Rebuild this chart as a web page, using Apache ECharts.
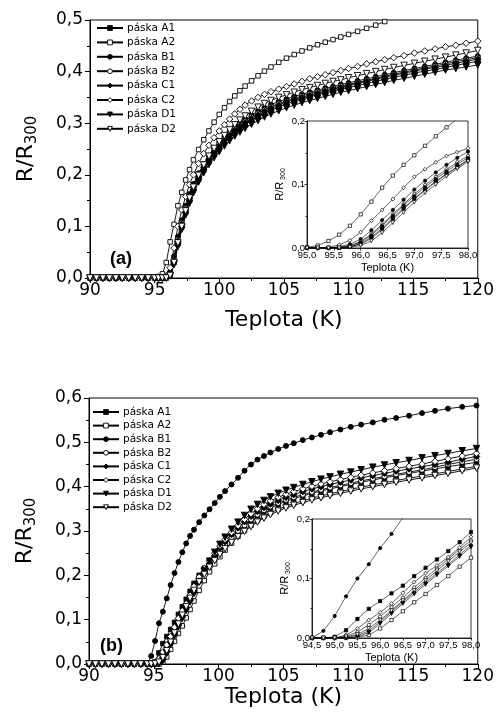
<!DOCTYPE html>
<html lang="cs">
<head>
  <meta charset="UTF-8">
  <title>R/R300 vs Teplota</title>
  <style>
    * { margin: 0; padding: 0; }
    #main { width: 497px; height: 718px; background: #fff; }
  </style>
</head>
<body>
  <div id="main"></div>
  <script src="https://cdn.jsdelivr.net/npm/echarts@6/dist/echarts.min.js"></script>
  <script>
    // ---- panel (a), main plot ----
    const tA = [90, 90.5, 91, 91.5, 92, 92.5, 93, 93.5, 94, 94.5,
      95, 95.3, 95.6, 95.9, 96.2, 96.5, 96.8, 97.1, 97.4, 97.7, 98,
      98.4, 98.8, 99.2, 99.6, 100, 100.4, 100.8, 101.2, 101.6, 102,
      102.5, 103, 103.5, 104,
      104.6, 105.2, 105.8, 106.4, 107, 107.6, 108.2, 108.8, 109.4, 110,
      110.7, 111.4, 112.1, 112.8, 113.5, 114.3, 115.1, 115.9, 116.7, 117.5, 118.3, 119.1, 120]
    const a_A1 = [0, 0, 0, 0, 0, 0, 0, 0, 0, 0,
      0, 0, 0, 0, 0.006, 0.03, 0.066, 0.099, 0.127, 0.15, 0.17,
      0.191, 0.209, 0.225, 0.239, 0.251, 0.262, 0.272, 0.281, 0.289, 0.297,
      0.305, 0.312, 0.319, 0.325,
      0.331, 0.337, 0.342, 0.346, 0.351, 0.355, 0.359, 0.362, 0.366, 0.369,
      0.373, 0.377, 0.381, 0.385, 0.389, 0.393, 0.397, 0.401, 0.404, 0.408, 0.412, 0.416, 0.42]
    const a_A2 = [0, 0, 0, 0, 0, 0, 0, 0, 0, 0,
      0.001, 0.003, 0.008, 0.03, 0.07, 0.104, 0.14, 0.166, 0.19, 0.21, 0.229,
      0.249, 0.268, 0.285, 0.302, 0.317, 0.33, 0.342, 0.353, 0.363, 0.372,
      0.382, 0.392, 0.401, 0.409,
      0.418, 0.426, 0.433, 0.44, 0.446, 0.452, 0.457, 0.462, 0.467, 0.472,
      0.478, 0.484, 0.49, 0.497, null, null, null, null, null, null, null, null, null]
    const a_B1 = [0, 0, 0, 0, 0, 0, 0, 0, 0, 0,
      0, 0, 0, 0.002, 0.012, 0.042, 0.08, 0.112, 0.14, 0.163, 0.182,
      0.203, 0.221, 0.237, 0.251, 0.263, 0.274, 0.284, 0.293, 0.301, 0.308,
      0.316, 0.323, 0.33, 0.336,
      0.342, 0.347, 0.352, 0.356, 0.36, 0.364, 0.368, 0.371, 0.375, 0.378,
      0.382, 0.386, 0.39, 0.394, 0.398, 0.402, 0.406, 0.41, 0.414, 0.418, 0.422, 0.426, 0.43]
    const a_B2 = [0, 0, 0, 0, 0, 0, 0, 0, 0, 0,
      0, 0, 0, 0.001, 0.009, 0.036, 0.074, 0.107, 0.135, 0.158, 0.178,
      0.199, 0.217, 0.233, 0.247, 0.259, 0.27, 0.28, 0.289, 0.297, 0.304,
      0.312, 0.319, 0.326, 0.332,
      0.338, 0.343, 0.348, 0.353, 0.357, 0.361, 0.365, 0.368, 0.372, 0.375,
      0.379, 0.383, 0.387, 0.391, 0.395, 0.399, 0.403, 0.407, 0.411, 0.415, 0.419, 0.423, 0.427]
    const a_C1 = [0, 0, 0, 0, 0, 0, 0, 0, 0, 0,
      0, 0, 0, 0.001, 0.008, 0.034, 0.071, 0.104, 0.132, 0.155, 0.175,
      0.196, 0.214, 0.23, 0.244, 0.256, 0.267, 0.277, 0.286, 0.294, 0.301,
      0.309, 0.316, 0.323, 0.329,
      0.335, 0.341, 0.346, 0.35, 0.354, 0.358, 0.362, 0.366, 0.369, 0.373,
      0.377, 0.381, 0.385, 0.389, 0.393, 0.397, 0.401, 0.405, 0.408, 0.412, 0.416, 0.42, 0.424]
    const a_C2 = [0, 0, 0, 0, 0, 0, 0, 0, 0, 0,
      0, 0, 0.001, 0.004, 0.02, 0.058, 0.1, 0.132, 0.158, 0.181, 0.2,
      0.222, 0.241, 0.257, 0.272, 0.285, 0.297, 0.308, 0.318, 0.327, 0.335,
      0.343, 0.35, 0.356, 0.361,
      0.366, 0.371, 0.376, 0.381, 0.386, 0.39, 0.394, 0.398, 0.402, 0.406,
      0.41, 0.415, 0.419, 0.423, 0.427, 0.431, 0.436, 0.44, 0.444, 0.448, 0.451, 0.455, 0.459]
    const a_D1 = [0, 0, 0, 0, 0, 0, 0, 0, 0, 0,
      0, 0, 0, 0, 0.004, 0.026, 0.061, 0.094, 0.122, 0.145, 0.165,
      0.186, 0.204, 0.22, 0.233, 0.245, 0.256, 0.266, 0.275, 0.283, 0.29,
      0.298, 0.305, 0.312, 0.318,
      0.324, 0.33, 0.335, 0.34, 0.344, 0.348, 0.352, 0.356, 0.36, 0.363,
      0.367, 0.371, 0.375, 0.379, 0.383, 0.387, 0.391, 0.395, 0.399, 0.403, 0.406, 0.409, 0.413]
    const a_D2 = [0, 0, 0, 0, 0, 0, 0, 0, 0, 0,
      0, 0, 0, 0, 0.005, 0.03, 0.068, 0.1, 0.13, 0.155, 0.176,
      0.199, 0.219, 0.236, 0.251, 0.264, 0.276, 0.287, 0.297, 0.306, 0.314,
      0.323, 0.331, 0.338, 0.344,
      0.35, 0.355, 0.36, 0.365, 0.369, 0.373, 0.377, 0.381, 0.384, 0.388,
      0.392, 0.396, 0.4, 0.404, 0.408, 0.412, 0.416, 0.42, 0.424, 0.428, 0.432, 0.436, 0.441]

    // ---- panel (a), inset ----
    const tIa = [95, 95.2, 95.4, 95.6, 95.8, 96, 96.2, 96.4, 96.6, 96.8, 97, 97.2, 97.4, 97.6, 97.8, 98]
    const ia_A1 = [0, 0, 0, 0, 0.002, 0.007, 0.017, 0.031, 0.047, 0.063, 0.078, 0.092, 0.105, 0.117, 0.128, 0.139]
    const ia_A2 = [0.001, 0.004, 0.011, 0.021, 0.035, 0.053, 0.073, 0.095, 0.114, 0.131, 0.146, 0.161, 0.176, 0.19, 0.203, 0.216]
    const ia_B1 = [0, 0, 0, 0.002, 0.006, 0.014, 0.028, 0.044, 0.06, 0.076, 0.092, 0.106, 0.119, 0.131, 0.142, 0.152]
    const ia_B2 = [0, 0, 0, 0.001, 0.004, 0.01, 0.022, 0.037, 0.053, 0.069, 0.085, 0.099, 0.112, 0.124, 0.135, 0.145]
    const ia_C1 = [0, 0, 0, 0.001, 0.003, 0.009, 0.02, 0.035, 0.051, 0.067, 0.082, 0.096, 0.109, 0.121, 0.132, 0.142]
    const ia_C2 = [0, 0, 0.001, 0.005, 0.012, 0.025, 0.043, 0.06, 0.077, 0.095, 0.112, 0.124, 0.135, 0.145, 0.151, 0.157]
    const ia_D1 = [0, 0, 0, 0, 0.002, 0.006, 0.015, 0.029, 0.045, 0.061, 0.077, 0.091, 0.104, 0.116, 0.127, 0.138]
    const ia_D2 = [0, 0, 0, 0, 0.001, 0.004, 0.011, 0.024, 0.04, 0.056, 0.072, 0.087, 0.1, 0.113, 0.125, 0.136]

    // ---- panel (b), main plot ----
    const tB = [90, 90.5, 91, 91.5, 92, 92.5, 93, 93.5, 94, 94.5,
      94.8, 95.1, 95.4, 95.7, 96, 96.3, 96.6, 96.9, 97.2, 97.5, 97.8, 98.1,
      98.5, 98.9, 99.3, 99.7, 100.1, 100.5,
      101, 101.5, 102, 102.5, 103, 103.5, 104,
      104.6, 105.2, 105.8,
      106.5, 107.2, 107.9, 108.6,
      109.4, 110.2, 111, 111.9, 112.8, 113.7,
      114.7, 115.7, 116.7, 117.7, 118.8, 119.9]
    const b_A1 = [0, 0, 0, 0, 0, 0, 0, 0, 0, 0,
      0, 0.005, 0.025, 0.046, 0.062, 0.078, 0.094, 0.112, 0.129, 0.146, 0.164, 0.182,
      0.2, 0.216, 0.231, 0.245, 0.258, 0.27,
      0.284, 0.298, 0.311, 0.323, 0.334, 0.344, 0.352,
      0.36, 0.367, 0.373,
      0.379, 0.385, 0.39, 0.395,
      0.4, 0.405, 0.41, 0.415, 0.42, 0.425,
      0.43, 0.435, 0.44, 0.445, 0.45, 0.455]
    const b_A2 = [0, 0, 0, 0, 0, 0, 0, 0, 0, 0,
      0, 0, 0, 0.004, 0.016, 0.033, 0.051, 0.069, 0.086, 0.104, 0.123, 0.142,
      0.166, 0.188, 0.208, 0.226, 0.242, 0.257,
      0.273, 0.288, 0.301, 0.313, 0.324, 0.333, 0.341,
      0.349, 0.356, 0.362,
      0.368, 0.374, 0.379, 0.384,
      0.389, 0.394, 0.399, 0.404, 0.409, 0.414,
      0.419, 0.424, 0.429, 0.434, 0.44, 0.446]
    const b_B1 = [0, 0, 0, 0, 0, 0, 0, 0, 0, 0,
      0.018, 0.052, 0.092, 0.118, 0.148, 0.178, 0.205, 0.23, 0.252, 0.272, 0.289, 0.303,
      0.32, 0.335, 0.349, 0.363, 0.377, 0.39,
      0.405, 0.42, 0.436, 0.45, 0.461, 0.469, 0.477,
      0.485, 0.492, 0.498,
      0.505, 0.511, 0.517, 0.523,
      0.529, 0.535, 0.54, 0.545, 0.551, 0.555,
      0.56, 0.566, 0.571, 0.576, 0.58, 0.583]
    const b_B2 = [0, 0, 0, 0, 0, 0, 0, 0, 0, 0,
      0, 0.001, 0.007, 0.02, 0.036, 0.055, 0.075, 0.095, 0.114, 0.133, 0.152, 0.17,
      0.19, 0.208, 0.225, 0.241, 0.256, 0.27,
      0.285, 0.3, 0.313, 0.326, 0.337, 0.347, 0.355,
      0.363, 0.37, 0.376,
      0.382, 0.388, 0.393, 0.398,
      0.403, 0.408, 0.413, 0.418, 0.423, 0.428,
      0.433, 0.438, 0.444, 0.45, 0.456, 0.462]
    const b_C1 = [0, 0, 0, 0, 0, 0, 0, 0, 0, 0,
      0, 0, 0.003, 0.01, 0.027, 0.047, 0.067, 0.087, 0.106, 0.124, 0.143, 0.162,
      0.185, 0.206, 0.226, 0.244, 0.261, 0.276,
      0.292, 0.307, 0.321, 0.333, 0.344, 0.353, 0.361,
      0.369, 0.376, 0.382,
      0.389, 0.395, 0.4, 0.405,
      0.41, 0.415, 0.42, 0.425, 0.43, 0.435,
      0.44, 0.445, 0.45, 0.455, 0.462, 0.468]
    const b_C2 = [0, 0, 0, 0, 0, 0, 0, 0, 0, 0,
      0, 0.001, 0.012, 0.027, 0.043, 0.062, 0.083, 0.103, 0.12, 0.136, 0.155, 0.175,
      0.196, 0.215, 0.233, 0.25, 0.266, 0.281,
      0.297, 0.312, 0.326, 0.339, 0.35, 0.36, 0.368,
      0.376, 0.383, 0.389,
      0.395, 0.401, 0.406, 0.411,
      0.416, 0.421, 0.426, 0.431, 0.436, 0.441,
      0.446, 0.451, 0.457, 0.463, 0.469, 0.475]
    const b_D1 = [0, 0, 0, 0, 0, 0, 0, 0, 0, 0,
      0, 0, 0.001, 0.007, 0.024, 0.044, 0.064, 0.084, 0.103, 0.121, 0.14, 0.159,
      0.186, 0.21, 0.232, 0.252, 0.27, 0.286,
      0.304, 0.32, 0.335, 0.349, 0.36, 0.369, 0.377,
      0.385, 0.392, 0.398,
      0.405, 0.411, 0.417, 0.422,
      0.428, 0.433, 0.438, 0.444, 0.449, 0.454,
      0.459, 0.465, 0.47, 0.475, 0.481, 0.486]
    const b_D2 = [0, 0, 0, 0, 0, 0, 0, 0, 0, 0,
      0, 0.001, 0.004, 0.014, 0.03, 0.049, 0.07, 0.09, 0.11, 0.129, 0.148, 0.166,
      0.185, 0.202, 0.218, 0.233, 0.247, 0.26,
      0.274, 0.287, 0.299, 0.31, 0.32, 0.329, 0.337,
      0.345, 0.352, 0.358,
      0.364, 0.37, 0.375, 0.38,
      0.385, 0.39, 0.395, 0.4, 0.405, 0.41,
      0.415, 0.42, 0.425, 0.43, 0.436, 0.442]

    // ---- panel (b), inset ----
    const tIb = [94.5, 94.75, 95, 95.25, 95.5, 95.75, 96, 96.25, 96.5, 96.75, 97, 97.25, 97.5, 97.75, 98]
    const ib_A1 = [0, 0, 0.002, 0.013, 0.032, 0.049, 0.062, 0.075, 0.088, 0.104, 0.118, 0.132, 0.146, 0.161, 0.178]
    const ib_A2 = [0, 0, 0, 0, 0.001, 0.005, 0.016, 0.03, 0.045, 0.06, 0.074, 0.089, 0.104, 0.12, 0.135]
    const ib_B1 = [0, 0.012, 0.037, 0.07, 0.1, 0.124, 0.151, 0.175, 0.202, 0.226, null, null, null, null, null]
    const ib_B2 = [0, 0, 0, 0.003, 0.01, 0.022, 0.036, 0.052, 0.068, 0.085, 0.101, 0.117, 0.133, 0.149, 0.164]
    const ib_C1 = [0, 0, 0, 0.001, 0.004, 0.012, 0.027, 0.044, 0.061, 0.077, 0.093, 0.109, 0.124, 0.14, 0.156]
    const ib_C2 = [0, 0, 0, 0.005, 0.016, 0.03, 0.043, 0.058, 0.076, 0.094, 0.109, 0.122, 0.136, 0.152, 0.17]
    const ib_D1 = [0, 0, 0, 0, 0.002, 0.009, 0.024, 0.041, 0.058, 0.074, 0.09, 0.106, 0.121, 0.137, 0.153]
    const ib_D2 = [0, 0, 0, 0.002, 0.006, 0.016, 0.03, 0.046, 0.063, 0.08, 0.097, 0.113, 0.129, 0.145, 0.16]

    // names and markers, same order as the value arrays below
    const names = ['páska A1', 'páska A2', 'páska B1', 'páska B2', 'páska C1', 'páska C2', 'páska D1', 'páska D2']
    const shapes = ['rect', 'rect', 'circle', 'circle', 'diamond', 'diamond', 'triangle', 'triangle']
    const hollow = [false, true, false, true, false, true, false, true]

    const aMain = [a_A1, a_A2, a_B1, a_B2, a_C1, a_C2, a_D1, a_D2]
    const aInset = [ia_A1, ia_A2, ia_B1, ia_B2, ia_C1, ia_C2, ia_D1, ia_D2]
    const bMain = [b_A1, b_A2, b_B1, b_B2, b_C1, b_C2, b_D1, b_D2]
    const bInset = [ib_A1, ib_A2, ib_B1, ib_B2, ib_C1, ib_C2, ib_D1, ib_D2]

    const FONT = 'DejaVu Sans'
    const SMALL = 'Liberation Sans Narrow, Liberation Sans'
    const comma = (d) => (v) => v.toFixed(d).replace('.', ',')

    function pts(t, v) {
      return t.map((x, i) => [x, v[i]]).filter(p => p[1] != null)
    }

    function markerSize(s, big) {
      if (big) return s === 'triangle' ? 6.5 : s === 'diamond' ? 6.5 : s === 'circle' ? 5 : 4.5
      return s === 'triangle' ? 3.8 : s === 'diamond' ? 3.8 : 3.3
    }

    function makeSeries(t, vals, gi, big) {
      return vals.map((v, k) => ({
        name: names[k],
        type: 'line',
        xAxisIndex: gi,
        yAxisIndex: gi,
        data: pts(t, v),
        symbol: shapes[k],
        symbolRotate: shapes[k] === 'triangle' ? 180 : 0,
        symbolSize: markerSize(shapes[k], big),
        itemStyle: { color: hollow[k] ? '#fff' : '#000', borderColor: '#000', borderWidth: big ? 0.9 : 0.7 },
        lineStyle: { color: '#000', width: big ? 0.9 : 0.6 },
        z: big ? 2 : 6,
        animation: false
      }))
    }

    function mainX(gi, gap) {
      return {
        gridIndex: gi, type: 'value', min: 90, max: 120, interval: 5,
        name: 'Teplota (K)', nameLocation: 'middle', nameGap: gap,
        nameTextStyle: { fontFamily: FONT, fontSize: 22, color: '#000' },
        axisLine: { lineStyle: { color: '#000', width: 1 } },
        axisTick: { length: 5, lineStyle: { color: '#000' } },
        minorTick: { show: true, splitNumber: 2, length: 3, lineStyle: { color: '#000' } },
        splitLine: { show: false },
        axisLabel: { fontFamily: FONT, fontSize: 17, color: '#000', margin: 4 }
      }
    }

    function mainY(gi, max) {
      return {
        gridIndex: gi, type: 'value', min: 0, max: max, interval: 0.1,
        name: '{a|R/R}{b|300}', nameLocation: 'middle', nameGap: 50,
        nameTextStyle: {
          color: '#000',
          rich: {
            a: { fontFamily: FONT, fontSize: 22, lineHeight: 28, verticalAlign: 'middle' },
            b: { fontFamily: FONT, fontSize: 15, lineHeight: 15, verticalAlign: 'bottom' }
          }
        },
        axisLine: { lineStyle: { color: '#000', width: 1 } },
        axisTick: { length: 5, lineStyle: { color: '#000' } },
        minorTick: { show: true, splitNumber: 2, length: 3, lineStyle: { color: '#000' } },
        splitLine: { show: false },
        axisLabel: { fontFamily: FONT, fontSize: 17, color: '#000', margin: 7, formatter: comma(1) }
      }
    }

    function insetX(gi, min) {
      return {
        gridIndex: gi, type: 'value', min: min, max: 98, interval: 0.5, z: 6,
        name: 'Teplota (K)', nameLocation: 'middle', nameGap: 14,
        nameTextStyle: { fontFamily: 'Liberation Sans', fontSize: 11, color: '#000' },
        axisLine: { lineStyle: { color: '#000', width: 0.8 } },
        axisTick: { length: 2.5, lineStyle: { color: '#000', width: 0.8 } },
        splitLine: { show: false },
        axisLabel: { fontFamily: SMALL, fontSize: 9.5, color: '#000', margin: 2, formatter: comma(1) }
      }
    }

    function insetY(gi) {
      return {
        gridIndex: gi, type: 'value', min: 0, max: 0.2, interval: 0.1, z: 6,
        name: '{a|R/R}{b| 300}', nameLocation: 'middle', nameGap: 20,
        nameTextStyle: {
          color: '#000',
          rich: {
            a: { fontFamily: 'Liberation Sans', fontSize: 11, lineHeight: 14, verticalAlign: 'middle' },
            b: { fontFamily: 'Liberation Sans', fontSize: 7, lineHeight: 8, verticalAlign: 'bottom' }
          }
        },
        axisLine: { lineStyle: { color: '#000', width: 0.8 } },
        axisTick: { length: 2.5, lineStyle: { color: '#000', width: 0.8 } },
        minorTick: { show: true, splitNumber: 2, length: 1.5, lineStyle: { color: '#000', width: 0.8 } },
        splitLine: { show: false },
        axisLabel: { fontFamily: SMALL, fontSize: 9.5, color: '#000', margin: 2, formatter: comma(1) }
      }
    }

    // legend icons: hollow markers need their own white fill
    const legendData = names.map((n, k) => ({
      name: n,
      itemStyle: { color: hollow[k] ? '#fff' : '#000', borderColor: '#000', borderWidth: 0.9 }
    }))

    function legendAt(left, top, gap) {
      return {
        data: legendData, orient: 'vertical', left: left, top: top,
        itemWidth: 26, itemHeight: 6, itemGap: gap, padding: 0,
        selectedMode: false,
        textStyle: { fontFamily: FONT, fontSize: 10.5, color: '#000', lineHeight: 12, padding: [0, 0, 0, -1] }
      }
    }

    const chart = echarts.init(document.getElementById('main'), null, { renderer: 'canvas' })
    chart.setOption({
      backgroundColor: '#fff',
      animation: false,
      grid: [
        { left: 90, top: 20, width: 388, height: 258, show: true, borderColor: '#000', borderWidth: 1, backgroundColor: 'transparent' },
        { left: 307, top: 121, width: 161, height: 127, show: true, borderColor: '#000', borderWidth: 0.8, backgroundColor: '#fff', z: 5 },
        { left: 89, top: 398, width: 393, height: 266, show: true, borderColor: '#000', borderWidth: 1, backgroundColor: 'transparent' },
        { left: 312, top: 519, width: 159, height: 119, show: true, borderColor: '#000', borderWidth: 0.8, backgroundColor: '#fff', z: 5 }
      ],
      xAxis: [mainX(0, 31), insetX(1, 95), mainX(2, 22), insetX(3, 94.5)],
      yAxis: [mainY(0, 0.5), insetY(1), mainY(2, 0.6), insetY(3)],
      legend: [legendAt(96, 22, 2.4), legendAt(92, 406, 1.6)],
      graphic: [
        { type: 'text', left: 110, top: 250, z: 10, style: { text: '(a)', font: 'bold 18px Liberation Sans', fill: '#000' } },
        { type: 'text', left: 100, top: 637, z: 10, style: { text: '(b)', font: 'bold 18px Liberation Sans', fill: '#000' } }
      ],
      series: [].concat(
        makeSeries(tA, aMain, 0, true),
        makeSeries(tIa, aInset, 1, false),
        makeSeries(tB, bMain, 2, true),
        makeSeries(tIb, bInset, 3, false)
      )
    })
  </script>
</body>
</html>
